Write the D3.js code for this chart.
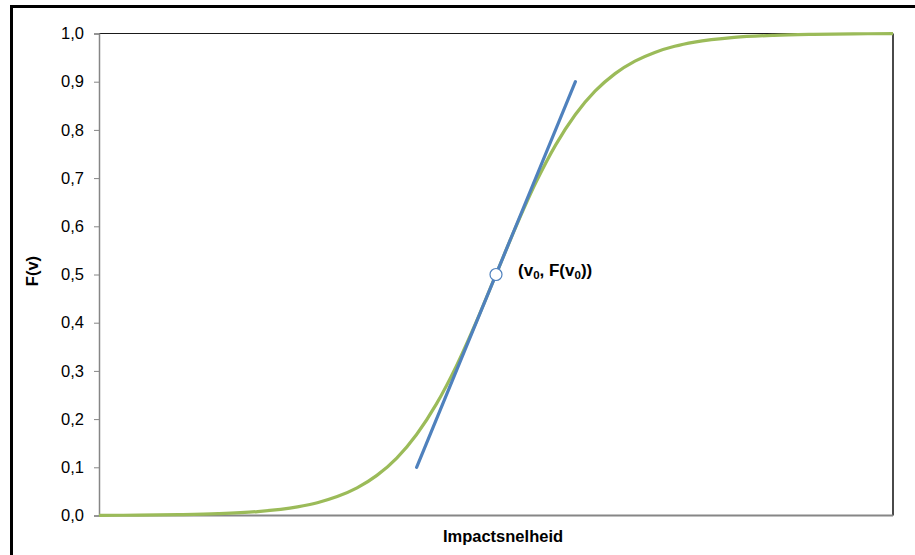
<!DOCTYPE html>
<html>
<head>
<meta charset="utf-8">
<script src="https://cdn.jsdelivr.net/npm/d3@7"></script>
<style>
  html, body { margin: 0; padding: 0; background: #fff; }
  svg { display: block; }
  text { font-family: "Liberation Sans", Arial, sans-serif; }
</style>
</head>
<body>
<svg id="view" width="915" height="555"></svg>
<script>
// DATA
var curveX = [0, 0.5, 1, 1.5, 2, 2.5, 2.75, 3, 3.25, 3.5, 3.75, 4, 4.25, 4.5, 4.75, 5,
              5.25, 5.5, 5.75, 6, 6.25, 6.5, 6.75, 7, 7.25, 7.5, 8, 8.5, 9, 9.5, 10];
var curveF = [0.0003, 0.0007, 0.0017, 0.0037, 0.0082, 0.018, 0.0266, 0.0392, 0.0573, 0.0832,
              0.1192, 0.168, 0.2315, 0.310, 0.4013, 0.5, 0.5987, 0.690, 0.7685, 0.832, 0.8808,
              0.9168, 0.9427, 0.9608, 0.9734, 0.982, 0.9918, 0.9963, 0.9983, 0.9993, 0.9997];

var tangentX = [4, 6];
var tangentF = [0.1, 0.9];

var pointX = [5];
var pointF = [0.5];

var yTicks = [0, 0.1, 0.2, 0.3, 0.4, 0.5, 0.6, 0.7, 0.8, 0.9, 1.0];

var X_TITLE = "Impactsnelheid";
var Y_TITLE = "F(v)";

// CONSTANTS
var GREEN = "#9bbb59";
var BLUE = "#4f81bd";
var AXIS = "#868686";

var LEFT = 99, RIGHT = 893, TOP = 33.5, BOTTOM = 515.5;

function main() {
    var svg = d3.select("#view");

    // outer chart frame
    svg.append("rect")
        .attr("x", 11.5)
        .attr("y", 6.5)
        .attr("width", 940)
        .attr("height", 580)
        .attr("fill", "none")
        .attr("stroke", "black")
        .attr("stroke-width", 3)
        ;

    var x = d3.scaleLinear().domain([0, 10]).range([LEFT, RIGHT]);
    var y = d3.scaleLinear().domain([0, 1]).range([BOTTOM, TOP]);

    // plot area border
    svg.append("line")
        .attr("x1", LEFT).attr("y1", TOP)
        .attr("x2", RIGHT).attr("y2", TOP)
        .attr("stroke", "#1a1a1a")
        .attr("stroke-width", 1.2)
        ;
    svg.append("line")
        .attr("x1", RIGHT).attr("y1", TOP)
        .attr("x2", RIGHT).attr("y2", BOTTOM)
        .attr("stroke", "#4a4a4a")
        .attr("stroke-width", 2)
        ;
    svg.append("line")
        .attr("x1", LEFT).attr("y1", BOTTOM)
        .attr("x2", RIGHT).attr("y2", BOTTOM)
        .attr("stroke", AXIS)
        .attr("stroke-width", 1.8)
        ;

    // y axis
    var yAxis = d3.axisLeft(y)
        .tickValues(yTicks)
        .tickSize(5)
        .tickPadding(10)
        .tickFormat(function(d) { return d3.format(".1f")(d).replace(".", ","); })
        ;
    var ag = svg.append("g")
        .attr("transform", "translate(" + LEFT + ",0)")
        .call(yAxis)
        ;
    ag.select(".domain")
        .attr("stroke", AXIS)
        .attr("stroke-width", 1.5)
        ;
    ag.selectAll(".tick line")
        .attr("stroke", AXIS)
        ;
    ag.selectAll(".tick text")
        .attr("font-family", "Liberation Sans, Arial, sans-serif")
        .attr("font-size", 16.5)
        .attr("fill", "#000")
        ;

    // curve
    var line = d3.line()
        .x(function(d) { return x(d[0]); })
        .y(function(d) { return y(d[1]); })
        .curve(d3.curveMonotoneX)
        ;
    svg.append("path")
        .datum(d3.zip(curveX, curveF))
        .attr("d", line)
        .attr("fill", "none")
        .attr("stroke", GREEN)
        .attr("stroke-width", 3.2)
        ;

    // tangent
    svg.append("path")
        .datum(d3.zip(tangentX, tangentF))
        .attr("d", d3.line()
            .x(function(d) { return x(d[0]); })
            .y(function(d) { return y(d[1]); }))
        .attr("fill", "none")
        .attr("stroke", BLUE)
        .attr("stroke-width", 3.2)
        .attr("stroke-linecap", "round")
        ;

    // point (v0, F(v0))
    svg.selectAll("circle.pt")
        .data(d3.zip(pointX, pointF))
        .enter()
        .append("circle")
        .attr("class", "pt")
        .attr("cx", function(d) { return x(d[0]); })
        .attr("cy", function(d) { return y(d[1]); })
        .attr("r", 6)
        .attr("fill", "white")
        .attr("stroke", BLUE)
        .attr("stroke-width", 1.2)
        ;

    var label = svg.append("text")
        .attr("x", x(pointX[0]) + 22)
        .attr("y", y(pointF[0]) + 1)
        .attr("font-size", 17)
        .attr("font-weight", "bold")
        ;
    label.append("tspan").text("(v");
    label.append("tspan").text("0").attr("font-size", 11.5).attr("dy", 3);
    label.append("tspan").text(", F(v").attr("dy", -3);
    label.append("tspan").text("0").attr("font-size", 11.5).attr("dy", 3);
    label.append("tspan").text("))").attr("dy", -3);

    // axis titles
    svg.append("text")
        .attr("x", 503)
        .attr("y", 542)
        .attr("text-anchor", "middle")
        .attr("font-size", 16.5)
        .attr("font-weight", "bold")
        .text(X_TITLE)
        ;
    svg.append("text")
        .attr("transform", "translate(38,271) rotate(-90)")
        .attr("text-anchor", "middle")
        .attr("font-size", 16.5)
        .attr("font-weight", "bold")
        .text(Y_TITLE)
        ;
}

main();
</script>
</body>
</html>
